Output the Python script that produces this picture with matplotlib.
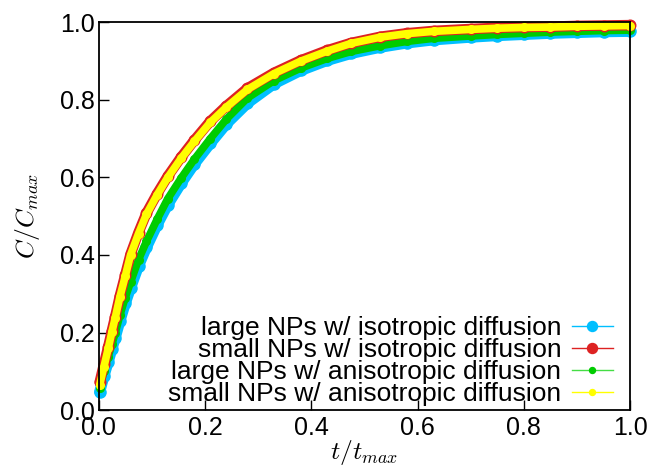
import matplotlib
matplotlib.use("Agg")
import matplotlib.pyplot as plt
from matplotlib.lines import Line2D

# values (t/t_max, C/C_max)
t_vals = [0.002, 0.010, 0.018, 0.025, 0.031, 0.040, 0.050, 0.060, 0.075, 0.090,
          0.110, 0.130, 0.155, 0.180, 0.210, 0.240, 0.280, 0.330, 0.380, 0.430,
          0.475, 0.530, 0.580, 0.630, 0.700, 0.750, 0.800, 0.850, 0.900, 0.950, 1.000]

large_iso = [0.047, 0.088, 0.125, 0.158, 0.186, 0.230, 0.275, 0.315, 0.372, 0.420,
             0.478, 0.530, 0.585, 0.635, 0.688, 0.738, 0.792, 0.842, 0.876, 0.902,
             0.920, 0.936, 0.947, 0.955, 0.962, 0.966, 0.969, 0.972, 0.974, 0.976, 0.977]

small_iso = [0.072, 0.118, 0.163, 0.205, 0.240, 0.295, 0.348, 0.402, 0.458, 0.508,
             0.558, 0.603, 0.652, 0.696, 0.745, 0.784, 0.830, 0.870, 0.902, 0.928,
             0.947, 0.963, 0.972, 0.978, 0.983, 0.986, 0.988, 0.989, 0.991, 0.992, 0.993]

large_aniso = [0.058, 0.100, 0.138, 0.170, 0.198, 0.245, 0.290, 0.330, 0.388, 0.435,
               0.492, 0.545, 0.598, 0.647, 0.700, 0.750, 0.805, 0.850, 0.882, 0.907,
               0.925, 0.940, 0.951, 0.959, 0.965, 0.969, 0.972, 0.975, 0.977, 0.979, 0.980]

small_aniso = [0.065, 0.112, 0.159, 0.202, 0.237, 0.292, 0.345, 0.400, 0.455, 0.505,
               0.555, 0.600, 0.649, 0.693, 0.742, 0.781, 0.827, 0.868, 0.900, 0.926,
               0.946, 0.962, 0.971, 0.977, 0.982, 0.985, 0.987, 0.988, 0.990, 0.991, 0.992]

labels = ["large NPs w/ isotropic diffusion",
          "small NPs w/ isotropic diffusion",
          "large NPs w/ anisotropic diffusion",
          "small NPs w/ anisotropic diffusion"]


plt.rcParams['font.family'] = ['Liberation Sans', 'DejaVu Sans']
plt.rcParams['mathtext.fontset'] = 'cm'

fig = plt.figure(figsize=(6.49, 4.67), dpi=100)
ax = fig.add_axes([0.152, 0.122, 0.819, 0.830])

# (values, colour, marker size, legend line colour, legend marker size)
series = [
	(large_iso, '#00bfff', 8.0, '#00bfff', 7.2),
	(large_aniso, '#00cc00', 5.5, '#44dd44', 4.3),
	(small_iso, '#dd2222', 7.6, '#dd2222', 7.2),
	(small_aniso, '#ffff00', 5.5, '#ffff00', 4.3),
]

for vals, col, ms, _, _ in series:
	# dense band under the markers, like the many overlapping points
	ax.plot(t_vals, vals, '-', color=col, lw=ms, solid_capstyle='round',
	        solid_joinstyle='round', clip_on=False, zorder=2)
	ax.plot(t_vals, vals, 'o', color=col, ms=ms, mec=col, clip_on=False, zorder=2)

handles = []
for i in [0, 2, 1, 3]:
	vals, col, ms, lcol, lms = series[i]
	handles.append(Line2D([], [], color=lcol, lw=1, marker='o', ms=lms,
	                      mfc=col, mec=col))

leg = ax.legend(handles, labels, loc='lower right', frameon=False,
                bbox_to_anchor=(0.9675, 0.01), markerfirst=False, fontsize=19,
                handlelength=1.55, labelspacing=-0.08, handletextpad=0.4,
                borderpad=0.0, borderaxespad=0.0)
for txt in leg.get_texts():
	txt.set_ha('right')
leg._legend_box.align = 'right'

ax.set_xlim(0, 1)
ax.set_ylim(0, 1)
ax.set_xticks([0, 0.2, 0.4, 0.6, 0.8, 1.0])
ax.set_yticks([0, 0.2, 0.4, 0.6, 0.8, 1.0])
ax.tick_params(direction='in', length=7, width=1, labelsize=18,
               top=False, right=False)
ax.tick_params(axis='x', pad=4)
ax.tick_params(axis='y', pad=3)
for sp in ax.spines.values():
	sp.set_linewidth(1.3)

ax.set_xlabel(r'$t/t_{max}$', fontsize=18.5, labelpad=-1)
ax.set_ylabel(r'$C/C_{max}$', fontsize=18.5, labelpad=13)

fig.savefig('out.png', dpi=100)
